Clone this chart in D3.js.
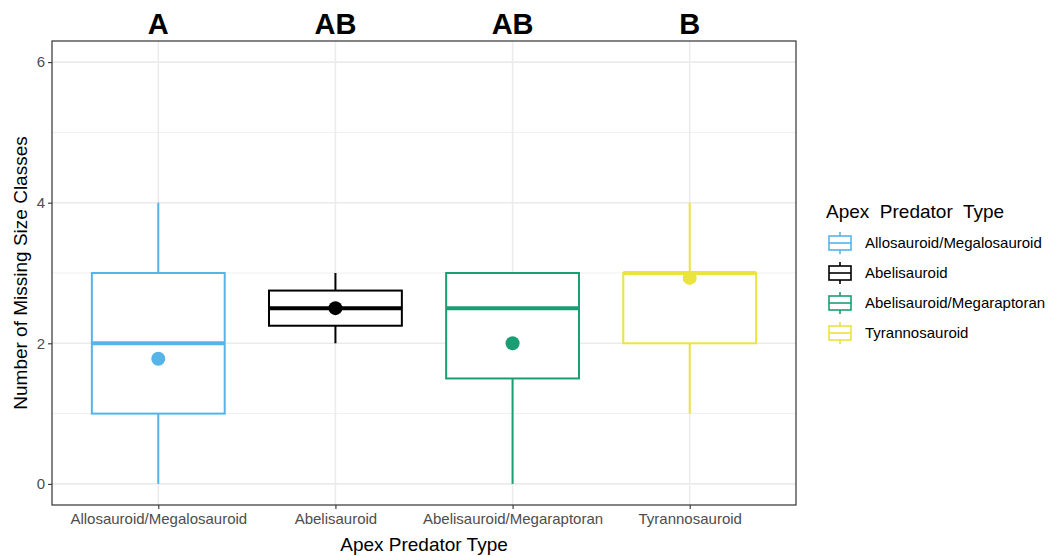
<!DOCTYPE html>
<html><head><meta charset="utf-8">
<script src="https://cdn.jsdelivr.net/npm/d3@7"></script>
<style>body{margin:0;background:#fff;} text{font-family:"Liberation Sans",Arial,sans-serif;}</style>
</head><body><svg id="c" width="1064" height="556"></svg>
<script>
const categories = ["Allosauroid/Megalosauroid","Abelisauroid","Abelisauroid/Megaraptoran","Tyrannosauroid"];
const colors = ["#56B4E9","#000000","#1B9E73","#EBE33E"];
const whiskerLow = [0, 2, 0, 1];
const q1 = [1, 2.25, 1.5, 2];
const medians = [2, 2.5, 2.5, 3];
const q3 = [3, 2.75, 3, 3];
const whiskerHigh = [4, 3, 3, 4];
const means = [1.78, 2.5, 2.0, 2.93];
const letters = ["A","AB","AB","B"];
const yTicks = [0,2,4,6];
const yMinor = [1,3,5];

const svg = d3.select("#c");
const L=52, R=796, T=41, B=505;
const xc = d3.scaleLinear().domain([0.4,4.6]).range([L,R]);
const cx = i => xc(i+1);
const unit = xc(1)-xc(0);
const y = d3.scaleLinear().domain([-0.3,6.3]).range([B,T]);

// grid
const g = svg.append("g");
g.selectAll(".mn").data(yMinor).join("line").attr("x1",L).attr("x2",R)
 .attr("y1",d=>y(d)).attr("y2",d=>y(d)).attr("stroke","#ebebeb").attr("stroke-width",0.8);
g.selectAll(".mj").data(yTicks).join("line").attr("x1",L).attr("x2",R)
 .attr("y1",d=>y(d)).attr("y2",d=>y(d)).attr("stroke","#ebebeb").attr("stroke-width",1.6);
g.selectAll(".vx").data(categories).join("line").attr("x1",(d,i)=>cx(i)).attr("x2",(d,i)=>cx(i))
 .attr("y1",T).attr("y2",B).attr("stroke","#ebebeb").attr("stroke-width",1.6);

// boxes
const bw = unit*0.75;
categories.forEach((c,i)=>{
  const col = colors[i], xm = cx(i);
  const bg = svg.append("g");
  if (whiskerHigh[i] > q3[i]) bg.append("line").attr("x1",xm).attr("x2",xm).attr("y1",y(q3[i])).attr("y2",y(whiskerHigh[i])).attr("stroke",col).attr("stroke-width",2);
  if (whiskerLow[i] < q1[i]) bg.append("line").attr("x1",xm).attr("x2",xm).attr("y1",y(q1[i])).attr("y2",y(whiskerLow[i])).attr("stroke",col).attr("stroke-width",2);
  bg.append("rect").attr("x",xm-bw/2).attr("width",bw).attr("y",y(q3[i])).attr("height",y(q1[i])-y(q3[i]))
    .attr("fill","#fff").attr("stroke",col).attr("stroke-width",2);
  bg.append("line").attr("x1",xm-bw/2).attr("x2",xm+bw/2).attr("y1",y(medians[i])).attr("y2",y(medians[i])).attr("stroke",col).attr("stroke-width",4);
  bg.append("circle").attr("cx",xm).attr("cy",y(means[i])).attr("r",7).attr("fill",col);
});

// panel border
svg.append("rect").attr("x",L).attr("y",T).attr("width",R-L).attr("height",B-T).attr("fill","none").attr("stroke","#333").attr("stroke-width",1.2);

// y axis
const ya = svg.append("g").attr("transform",`translate(${L},0)`)
 .call(d3.axisLeft(y).tickValues(yTicks).tickFormat(d3.format("d")).tickSize(4).tickPadding(3));
ya.select(".domain").remove();
ya.selectAll(".tick line").attr("stroke","#333").attr("stroke-width",1.1);
ya.selectAll(".tick text").attr("fill","#4d4d4d").style("font-size","15px");

// x axis
const xa = svg.append("g").attr("transform",`translate(0,${B})`)
 .call(d3.axisBottom(xc).tickValues([1,2,3,4]).tickFormat(d=>categories[d-1]).tickSize(4).tickPadding(4));
xa.select(".domain").remove();
xa.selectAll(".tick line").attr("stroke","#333").attr("stroke-width",1.1);
xa.selectAll(".tick text").attr("fill","#4d4d4d").style("font-size","15px");

// titles
svg.append("text").attr("x",(L+R)/2).attr("y",551).attr("text-anchor","middle").style("font-size","19px").attr("fill","#000").text("Apex Predator Type");
svg.append("text").attr("transform",`translate(27,${(T+B)/2}) rotate(-90)`).attr("text-anchor","middle").style("font-size","19px").attr("fill","#000").text("Number of Missing Size Classes");

// letters
svg.selectAll(".let").data(letters).join("text").attr("x",(d,i)=>cx(i)).attr("y",34)
 .attr("text-anchor","middle").style("font-size","29px").style("font-weight","bold").attr("fill","#000").text(d=>d);

// legend
svg.append("text").attr("x",826).attr("y",218).style("font-size","19px").attr("fill","#000").attr("xml:space","preserve").text("Apex  Predator  Type");
categories.forEach((c,i)=>{
  const yc = 243 + i*30, col = colors[i];
  const lg = svg.append("g");
  lg.append("line").attr("x1",840).attr("x2",840).attr("y1",yc-11).attr("y2",yc+11).attr("stroke",col).attr("stroke-width",1.6);
  lg.append("rect").attr("x",829).attr("y",yc-7).attr("width",22).attr("height",14).attr("fill","#fff").attr("stroke",col).attr("stroke-width",1.6);
  lg.append("line").attr("x1",829).attr("x2",851).attr("y1",yc).attr("y2",yc).attr("stroke",col).attr("stroke-width",1.6);
  lg.append("text").attr("x",865).attr("y",yc+5).style("font-size","15px").attr("fill","#000").text(c);
});
</script></body></html>
